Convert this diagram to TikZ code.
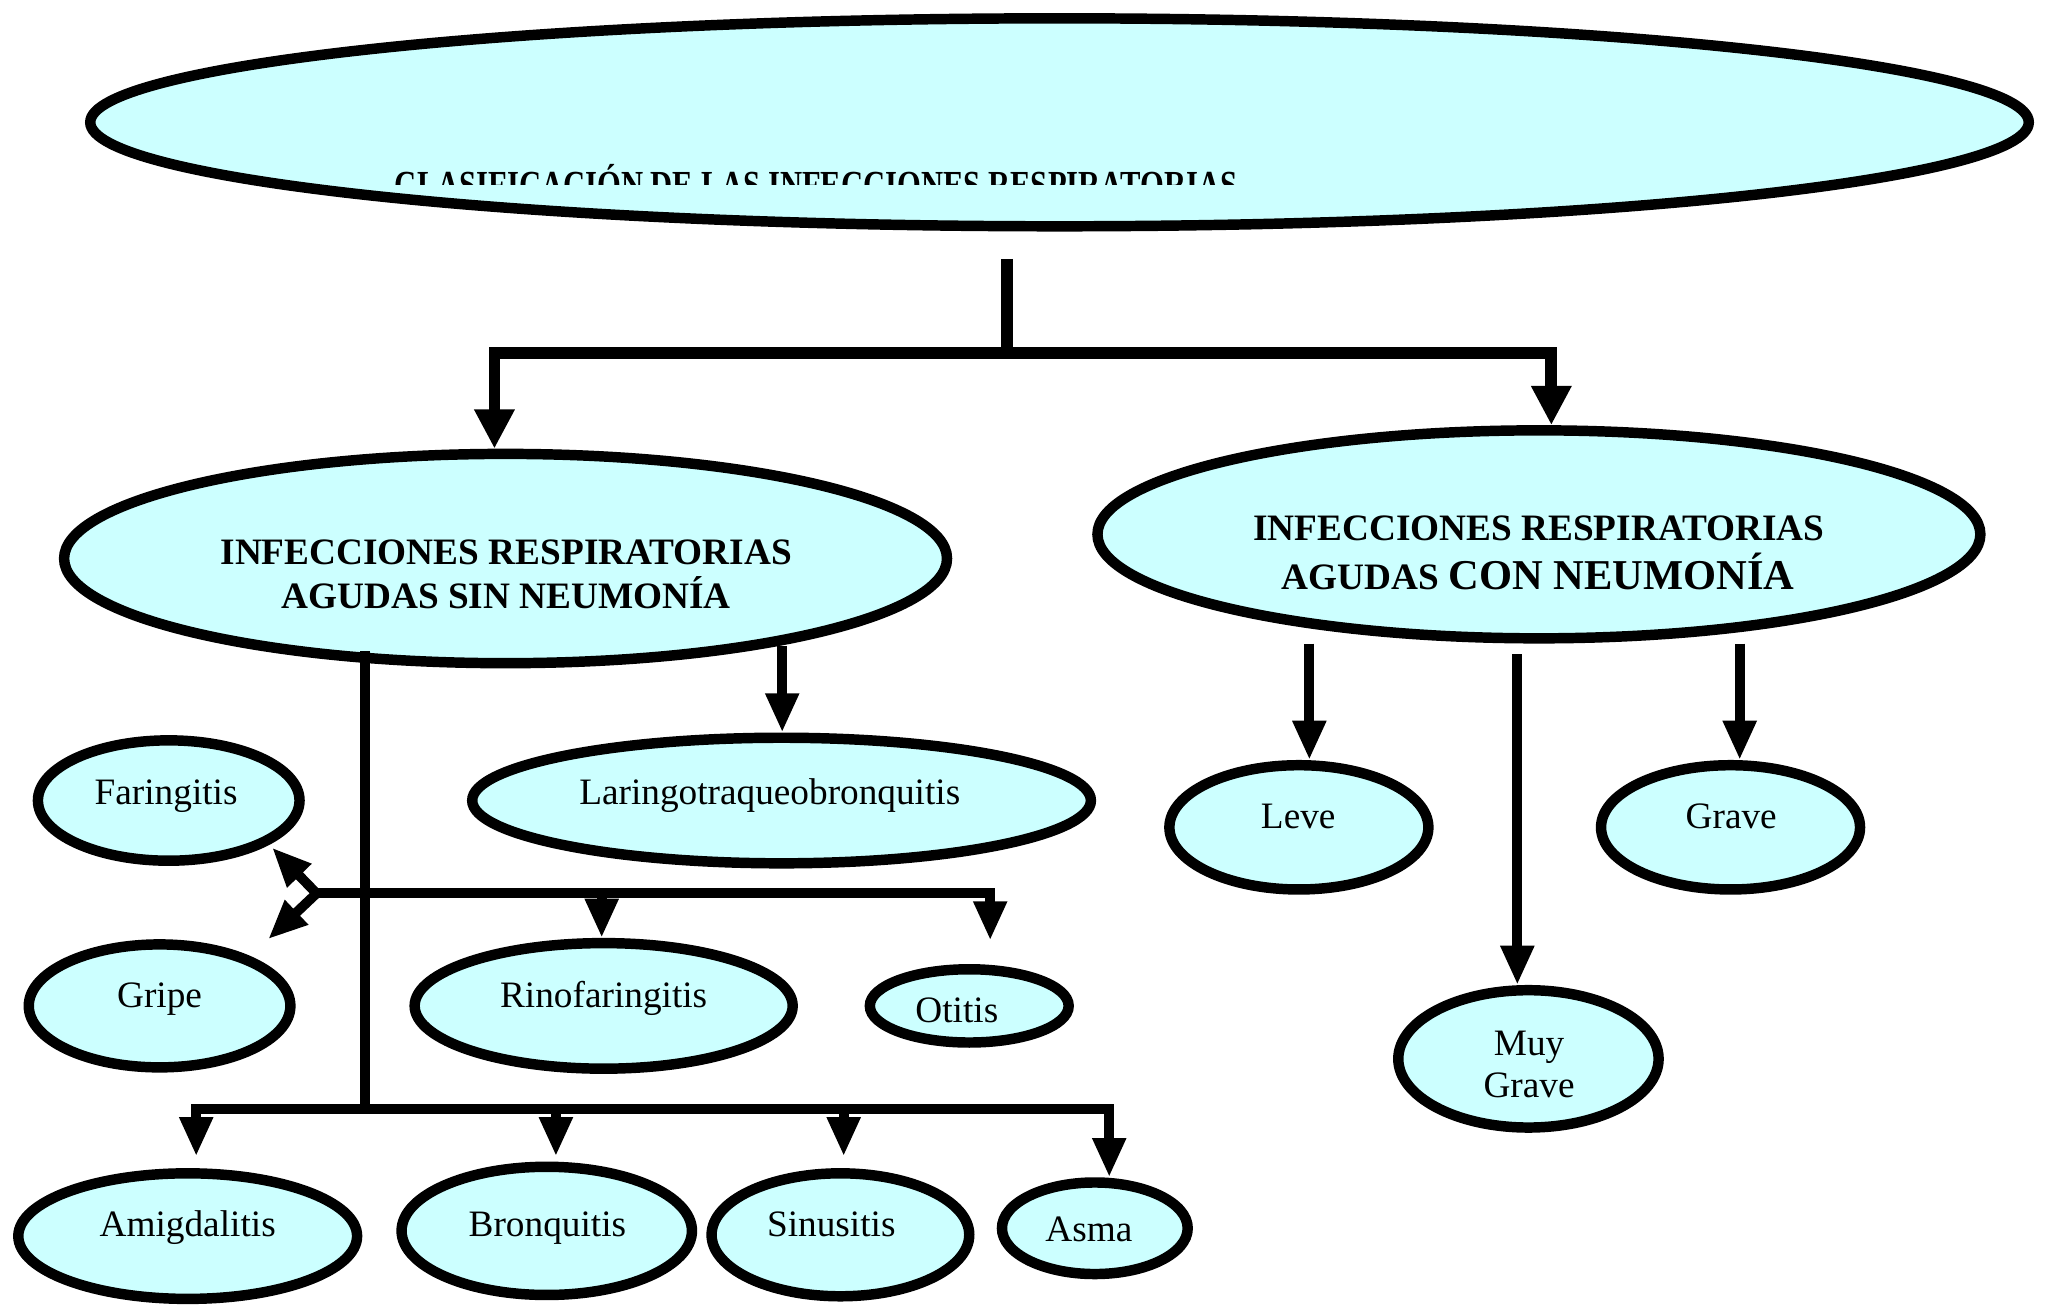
\documentclass[tikz,border=0pt]{standalone}
\usepackage{fontspec}
\setmainfont{Liberation Serif}
\usetikzlibrary{arrows.meta,shapes.geometric}
\definecolor{cy}{RGB}{204,255,255}
\begin{document}
\begin{tikzpicture}[x=1pt,y=-1pt,
  ell/.style={ellipse,draw=black,fill=cy,line width=8pt,inner sep=0pt},
  txt/.style={font=\fontsize{28.5}{32}\selectfont,align=center,inner sep=0pt,anchor=base},
  hdr/.style={font=\fontsize{28.5}{34}\selectfont\bfseries,align=center,inner sep=0pt},
  con/.style={line width=7.5pt},
  arr/.style={line width=7.5pt,-{Triangle[width=24pt,length=30pt]}},
  bigarr/.style={line width=9pt,-{Triangle[width=29pt,length=30pt]}},
]
\useasboundingbox (0,0) rectangle (1568,999);

% ---- ellipses ----
\node[ell,minimum width=1482pt,minimum height=159pt] (title) at (810,93.5) {};
\node[ell,minimum width=675pt,minimum height=160pt] (sin) at (386.5,427) {};
\node[ell,minimum width=675pt,minimum height=159pt] (con) at (1176.5,408.5) {};
\node[ell,minimum width=198pt,minimum height=95pt] (leve) at (993,632.5) {};
\node[ell,minimum width=198pt,minimum height=95pt] (grave) at (1323,632.5) {};
\node[ell,minimum width=199pt,minimum height=105pt] (muy) at (1168.5,809.5) {};
\node[ell,minimum width=473pt,minimum height=96pt] (lar) at (597.5,612) {};
\node[ell,minimum width=200pt,minimum height=92pt] (far) at (129,612) {};
\node[ell,minimum width=200pt,minimum height=94pt] (gri) at (122,769) {};
\node[ell,minimum width=289pt,minimum height=96pt] (rino) at (461.5,769) {};
\node[ell,minimum width=152pt,minimum height=56pt] (oti) at (741,769) {};
\node[ell,minimum width=259pt,minimum height=96pt] (amig) at (143.5,945) {};
\node[ell,minimum width=222pt,minimum height=98pt] (bron) at (418,941) {};
\node[ell,minimum width=197pt,minimum height=94pt] (sinu) at (642.5,944) {};
\node[ell,minimum width=142pt,minimum height=70pt] (asma) at (837,939) {};

% ---- texts ----
\begin{scope}
  \clip (200,100) rectangle (1400,141);
  \node[font=\fontsize{23.4}{28}\selectfont\bfseries,inner sep=0pt,anchor=base] (titleT) at (624,152) {\scalebox{1}[1.3]{CLASIFICACIÓN DE LAS INFECCIONES RESPIRATORIAS}};
\end{scope}
\node[hdr] (sinT) at (387,439) {INFECCIONES RESPIRATORIAS\\AGUDAS SIN NEUMONÍA};
\node[hdr,anchor=base] (conT1) at (1176.5,413.5) {INFECCIONES RESPIRATORIAS};
\node[hdr,anchor=base] (conT2) at (1176,451) {AGUDAS {\fontsize{32.5}{38}\selectfont CON NEUMONÍA}};
\node[txt] (farT) at (127,615) {Faringitis};
\node[txt] (larT) at (588.5,615) {Laringotraqueobronquitis};
\node[txt] (griT) at (122,770) {Gripe};
\node[txt] (rinoT) at (461.5,770) {Rinofaringitis};
\node[txt] (otiT) at (731.5,782) {Otitis};
\node[txt] (leveT) at (992.5,633) {Leve};
\node[txt] (graveT) at (1323.5,633) {Grave};
\node[txt,anchor=center] (muyT) at (1169,814) {Muy\\Grave};
\node[txt] (amigT) at (143.5,945) {Amigdalitis};
\node[txt] (bronT) at (418.5,945) {Bronquitis};
\node[txt] (sinuT) at (635.5,945) {Sinusitis};
\node[txt] (asmaT) at (832.5,949) {Asma};

% ---- connector coordinates ----
\coordinate (t1) at (770,198);
\coordinate (t2) at (770,270);
\coordinate (tL) at (378,270);
\coordinate (tR) at (1186,270);
\coordinate (c1) at (1001,492);
\coordinate (c2) at (1160,500);
\coordinate (c3) at (1330,492);
\coordinate (s1) at (598,494);
\coordinate (s2) at (279,498);
\coordinate (s3) at (279,848);
\coordinate (b1) at (150,848);
\coordinate (b2) at (425,848);
\coordinate (b3) at (645,848);
\coordinate (b4) at (848,848);
\coordinate (m0) at (242,683);
\coordinate (m1) at (460,683);
\coordinate (m2) at (757,683);
\coordinate (fa) at (208,648);
\coordinate (gr) at (205,718);

% ---- connectors ----
\draw[line width=9pt] (t1) -- (t2);
\draw[bigarr] (t2) -- (tL) -- (tL |- sin.north);
\draw[bigarr] (t2) -- (tR) -- (tR |- con.north);

\draw[arr] (c1) -- (c1 |- leve.north);
\draw[arr] (c2) -- (c2 |- muy.north);
\draw[arr] (c3) -- (c3 |- grave.north);

\draw[arr] (s1) -- (s1 |- lar.north);
\draw[con] (s2) -- (s3);
\draw[arr,shorten >=9pt] (s3) -- (b1) -- (b1 |- amig.north);
\draw[arr,shorten >=4pt] (b2) -- (b2 |- bron.north);
\draw[arr,shorten >=9pt] (b3) -- (b3 |- sinu.north);
\draw[arr] (s3) -- (b4) -- (b4 |- asma.north);

\draw[{Triangle[width=24pt,length=30pt]}-{Triangle[width=24pt,length=30pt]},line width=7.5pt] (fa) -- (m0) -- (gr);
\draw[arr] (m0) -- (m1) -- (m1 |- rino.north);
\draw[arr,shorten >=18pt] (m1) -- (m2) -- (m2 |- oti.north);
\end{tikzpicture}
\end{document}
